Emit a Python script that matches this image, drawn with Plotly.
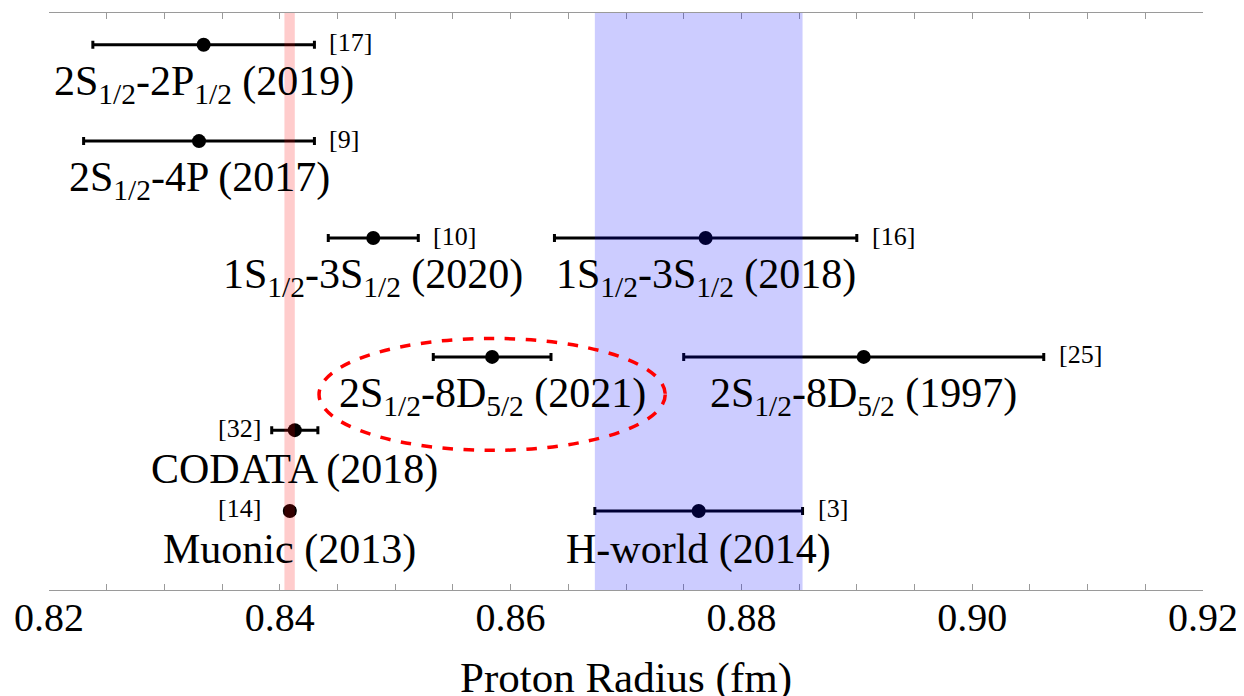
import plotly.graph_objects as go

# proton radius measurements (fm)
labels = [
    "2S<sub>1/2</sub>-2P<sub>1/2</sub> (2019)",
    "2S<sub>1/2</sub>-4P (2017)",
    "1S<sub>1/2</sub>-3S<sub>1/2</sub> (2020)",
    "1S<sub>1/2</sub>-3S<sub>1/2</sub> (2018)",
    "2S<sub>1/2</sub>-8D<sub>5/2</sub> (2021)",
    "2S<sub>1/2</sub>-8D<sub>5/2</sub> (1997)",
    "CODATA (2018)",
    "Muonic (2013)",
    "H-world (2014)",
]
radius = [0.8334, 0.8330, 0.8481, 0.8769, 0.8584, 0.8906, 0.8413, 0.84087, 0.8763]
err = [0.0096, 0.0100, 0.0039, 0.0131, 0.0051, 0.0156, 0.0020, 0.00039, 0.0090]
refs = ["[17]", "[9]", "[10]", "[16]", "", "[25]", "[32]", "[14]", "[3]"]
ref_side = ["right"] * 6 + ["left", "left", "right"]
# vertical slot of each row (0 = bottom, 100 = top)
row = [94.5, 77.8, 61.0, 61.0, 40.4, 40.4, 27.7, 13.7, 13.7]

muonic_band = (0.8404, 0.8413)
hworld_idx = 8
highlight_idx = 4

x_ticks = [0.82, 0.84, 0.86, 0.88, 0.90, 0.92]

FONT = "'Liberation Serif', 'Times New Roman', Times, serif"
AXIS_GRAY = "#9a9a9a"

fig = go.Figure()
fig.add_trace(
    go.Scatter(
        x=radius,
        y=row,
        mode="markers",
        marker=dict(color="black", size=14),
        error_x=dict(type="data", array=err, color="black", thickness=3, width=4),
        showlegend=False,
        hoverinfo="skip",
    )
)

annotations = []
for i, lab in enumerate(labels):
    annotations.append(
        dict(x=radius[i], y=row[i], text=lab, showarrow=False, xref="x", yref="y",
             xanchor="center", yanchor="middle", yshift=-39,
             font=dict(family=FONT, size=42, color="black"))
    )

left_anchor = min(radius[i] - err[i] for i in range(len(radius)) if ref_side[i] == "left")
for i, ref in enumerate(refs):
    if not ref:
        continue
    if ref_side[i] == "right":
        ax, anchor, shift = radius[i] + err[i], "left", 13
    else:
        ax, anchor, shift = left_anchor, "right", -9
    annotations.append(
        dict(x=ax, y=row[i], text=ref, showarrow=False, xref="x", yref="y",
             xanchor=anchor, yanchor="middle", xshift=shift, yshift=2,
             font=dict(family=FONT, size=26, color="black"))
    )

shapes = [
    dict(type="rect", xref="x", yref="paper", x0=muonic_band[0], x1=muonic_band[1],
         y0=0, y1=1, fillcolor="red", opacity=0.2, line=dict(width=0), layer="above"),
    dict(type="rect", xref="x", yref="paper",
         x0=radius[hworld_idx] - err[hworld_idx], x1=radius[hworld_idx] + err[hworld_idx],
         y0=0, y1=1, fillcolor="blue", opacity=0.2, line=dict(width=0), layer="above"),
    dict(type="circle", xref="x", yref="y",
         x0=radius[highlight_idx] - 0.0150, x1=radius[highlight_idx] + 0.0150,
         y0=row[highlight_idx] - 16.2, y1=row[highlight_idx] + 3.2,
         line=dict(color="red", width=3.5, dash="dash"), layer="above"),
]

# the page body adds an 8px offset; the axis title runs off the bottom as in the original
fig.update_layout(
    width=1236,
    height=706,
    margin=dict(l=41, r=41, t=5, b=124, autoexpand=False),
    paper_bgcolor="white",
    plot_bgcolor="white",
    font=dict(family=FONT, color="black"),
    annotations=annotations,
    shapes=shapes,
    xaxis=dict(
        range=[0.82, 0.92],
        tickvals=x_ticks,
        ticktext=[f"{v:.2f}" for v in x_ticks],
        tickfont=dict(family=FONT, size=40, color="black"),
        ticks="inside",
        ticklen=6,
        tickcolor=AXIS_GRAY,
        ticklabelstandoff=-8,
        showline=True,
        linecolor=AXIS_GRAY,
        linewidth=1,
        mirror="ticks",
        showgrid=False,
        zeroline=False,
        automargin=False,
        minor=dict(dtick=0.005, ticks="inside", ticklen=6, tickcolor=AXIS_GRAY, showgrid=False),
        title=dict(text="Proton Radius (fm)", font=dict(family=FONT, size=43, color="black"),
                   standoff=22),
    ),
    yaxis=dict(range=[0, 100], visible=False, fixedrange=True, automargin=False),
)

fig.write_html("out.html")
